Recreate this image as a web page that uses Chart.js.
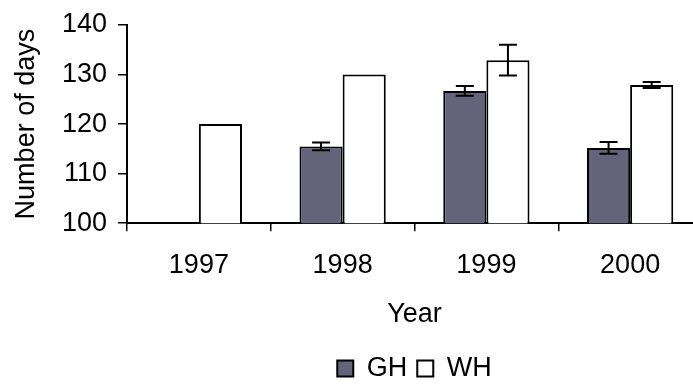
<!DOCTYPE html>
<html>
<head>
<meta charset="utf-8">
<script src="https://cdn.jsdelivr.net/npm/chart.js@4"></script>
<style>
    html, body { margin: 0; padding: 0; background: #fff; }
    #wrap { width: 693px; height: 385px; overflow: hidden; }
</style>
</head>
<body>
<div id="wrap">
    <canvas id="daysChart" width="702" height="385"></canvas>
</div>
<script>
// Dữ liệu
const years = ['1997', '1998', '1999', '2000'];
const ghValues = [null, 115.5, 126.7, 115.2];
const ghErrors = [0, 0.8, 1.0, 1.2];
const whValues = [120, 130, 132.9, 127.9];
const whErrors = [0, 0, 3.1, 0.6];
const yTicks = [100, 110, 120, 130, 140];

const FONT = "'Liberation Sans', Arial, sans-serif";
const FONT_SIZE = 27;

// Plugin vẽ thanh sai số
const errorBars = {
    id: 'errorBars',
    afterDatasetsDraw(chart) {
        const ctx = chart.ctx;
        const yScale = chart.scales.y;
        ctx.save();
        ctx.strokeStyle = '#000';
        ctx.lineWidth = 2;
        chart.data.datasets.forEach((ds, i) => {
            const meta = chart.getDatasetMeta(i);
            meta.data.forEach((bar, j) => {
                const v = ds.data[j];
                const e = ds.errors[j];
                if (v == null || !e) return;
                const x = bar.x;
                const top = yScale.getPixelForValue(v + e);
                const bottom = yScale.getPixelForValue(v - e);
                const half = 9;
                ctx.beginPath();
                ctx.moveTo(x, top);
                ctx.lineTo(x, bottom);
                ctx.moveTo(x - half, top);
                ctx.lineTo(x + half, top);
                ctx.moveTo(x - half, bottom);
                ctx.lineTo(x + half, bottom);
                ctx.stroke();
            });
        });
        ctx.restore();
    }
};

new Chart(document.getElementById('daysChart'), {
    type: 'bar',
    data: {
        labels: years,
        datasets: [{
            label: 'GH',
            data: ghValues,
            errors: ghErrors,
            backgroundColor: '#63637a',
            borderColor: '#000',
            borderWidth: 2,
            barPercentage: 1,
            categoryPercentage: 0.6
        }, {
            label: 'WH',
            data: whValues,
            errors: whErrors,
            backgroundColor: '#fff',
            borderColor: '#000',
            borderWidth: 2,
            barPercentage: 1,
            categoryPercentage: 0.6
        }]
    },
    options: {
        responsive: false,
        animation: false,
        layout: {
            padding: { top: 0, left: 0, right: 0, bottom: -7 }
        },
        plugins: {
            legend: {
                position: 'bottom',
                fullSize: false,
                labels: {
                    color: '#000',
                    font: { family: FONT, size: FONT_SIZE },
                    boxWidth: 16,
                    boxHeight: 16,
                    padding: 10
                }
            },
            tooltip: { enabled: false }
        },
        scales: {
            y: {
                min: 100,
                max: 140,
                afterBuildTicks: (scale) => {
                    scale.ticks = yTicks.map(v => ({ value: v }));
                },
                afterFit: (scale) => {
                    scale.width = 127;
                    scale.paddingTop = 25;
                },
                border: { color: '#000', width: 2 },
                grid: {
                    drawOnChartArea: false,
                    tickLength: 9,
                    color: '#000',
                    lineWidth: 1.5
                },
                ticks: {
                    color: '#000',
                    padding: 11,
                    font: { family: FONT, size: FONT_SIZE }
                },
                title: {
                    display: true,
                    text: 'Number of days',
                    color: '#000',
                    font: { family: FONT, size: FONT_SIZE },
                    padding: { top: 10, bottom: 0 }
                }
            },
            x: {
                border: { color: '#000', width: 2 },
                grid: {
                    offset: true,
                    drawOnChartArea: false,
                    tickLength: 8,
                    color: '#000',
                    lineWidth: 1.5
                },
                ticks: {
                    color: '#000',
                    padding: 18,
                    font: { family: FONT, size: FONT_SIZE }
                },
                title: {
                    display: true,
                    text: 'Year',
                    color: '#000',
                    font: { family: FONT, size: FONT_SIZE },
                    padding: { top: -1, bottom: 14 }
                }
            }
        }
    },
    plugins: [errorBars]
});
</script>
</body>
</html>
